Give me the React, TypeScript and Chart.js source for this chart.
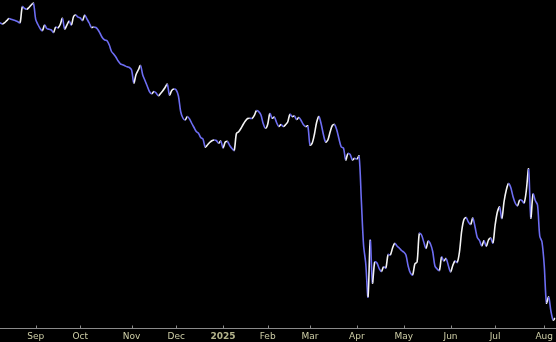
import React, { useEffect, useRef } from "react";
import { Chart, registerables } from "chart.js";

Chart.register(...registerables);

// Trading calendar (US market days) covered by the chart
const START_DATE = "2024-08-09";
const END_DATE = "2025-08-08";
const HOLIDAYS = [
  "2024-09-02", "2024-11-28", "2024-12-25", "2025-01-01", "2025-01-09",
  "2025-01-20", "2025-02-17", "2025-04-18", "2025-05-26", "2025-06-19", "2025-07-04",
];
const MONTH_LABELS = ["2025", "Feb", "Mar", "Apr", "May", "Jun", "Jul", "Aug", "Sep", "Oct", "Nov", "Dec"];

// Daily closing values
const closes = [
  141.46, 141.2, 141.44, 141.86, 142.3, 142.14, 141.98, 141.86, 141.64, 141.46,
  144.66, 144.32, 144.14, 144.5, 145.0, 145.34, 142.14, 141.1, 140.3, 139.86,
  141.0, 140.3, 140.14, 140.0, 139.5, 140.6, 140.4, 141.1, 142.34, 140.2,
  141.0, 141.8, 141.0, 142.7, 143.0, 142.56, 142.4, 141.9, 143.0, 142.2,
  141.4, 140.5, 140.6, 140.5, 140.0, 139.2, 138.4, 138.0, 137.84, 137.0,
  135.7, 135.16, 134.56, 133.8, 133.24, 133.04, 132.84, 132.64, 132.5, 132.0,
  129.4, 131.1, 132.0, 132.9, 131.0, 129.9, 128.8, 127.7, 127.24, 127.7,
  127.4, 126.84, 127.3, 127.84, 128.5, 129.16, 127.0, 127.9, 128.2, 128.0,
  126.8, 123.7, 122.4, 122.0, 122.7, 122.2, 121.3, 120.5, 119.7, 119.36,
  118.5, 118.2, 116.6, 117.0, 117.5, 117.84, 118.0, 117.9, 117.34, 117.8,
  116.4, 117.6, 117.7, 116.9, 116.3, 115.9, 119.3, 119.66, 120.3, 121.1,
  121.8, 122.3, 122.36, 122.3, 122.9, 123.86, 123.66, 123.0, 121.3, 120.34,
  121.1, 123.3, 122.34, 122.6, 121.5, 120.7, 121.1, 120.7, 121.04, 121.6,
  123.16, 122.68, 122.8, 122.1, 122.5, 121.9, 121.1, 120.7, 120.8, 117.0,
  117.4, 119.2, 121.6, 122.7, 121.2, 119.1, 117.6, 118.0, 119.6, 120.9,
  121.1, 120.0, 118.2, 116.6, 116.4, 114.0, 115.3, 115.1, 114.0, 114.34,
  114.2, 114.8, 106.0, 97.0, 93.2, 86.6, 98.0, 89.4, 93.6, 93.4,
  92.3, 91.7, 92.66, 92.4, 95.1, 95.0, 96.4, 97.34, 96.8, 96.4,
  95.9, 95.6, 95.0, 92.8, 91.4, 91.0, 93.2, 93.6, 99.34, 99.0,
  97.6, 96.3, 97.8, 97.2, 95.7, 92.8, 92.2, 91.9, 94.6, 93.8,
  94.3, 92.9, 91.6, 92.9, 93.8, 93.5, 95.6, 99.8, 102.1, 102.5,
  101.6, 101.1, 102.4, 100.6, 98.5, 97.9, 96.8, 97.9, 96.7, 98.0,
  98.4, 97.4, 101.0, 103.6, 104.6, 102.3, 105.7, 108.0, 109.3, 108.5,
  106.7, 105.4, 104.84, 106.0, 105.9, 105.4, 108.0, 112.2, 102.4, 107.2,
  105.9, 105.0, 98.8, 97.6, 93.0, 85.4, 86.6, 83.8, 82.0, 82.4,
];

const Y_MIN = 80.4;
const Y_MAX = 146;

function tradingDays(): string[] {
  const out: string[] = [];
  const d = new Date(START_DATE + "T00:00:00Z");
  const end = new Date(END_DATE + "T00:00:00Z");
  while (d.getTime() <= end.getTime()) {
    const wd = d.getUTCDay();
    const iso = d.toISOString().slice(0, 10);
    if (wd !== 0 && wd !== 6 && !HOLIDAYS.includes(iso)) out.push(iso);
    d.setUTCDate(d.getUTCDate() + 1);
  }
  return out;
}

const RISE = "#f4f4f4";
const FALL = "#6d6df2";
const AXIS = "#8a8a8a";

export default function App() {
  const ref = useRef<HTMLCanvasElement | null>(null);

  useEffect(() => {
    document.body.style.margin = "0";
    document.body.style.background = "#000";
    const dates = tradingDays();
    const monthTicks: { value: number; label: string }[] = [];
    for (let i = 1; i < dates.length; i++) {
      if (dates[i].slice(5, 7) !== dates[i - 1].slice(5, 7)) {
        const m = parseInt(dates[i].slice(5, 7), 10) - 1;
        monthTicks.push({ value: i, label: MONTH_LABELS[m] });
      }
    }
    const points = closes.map((v, i) => ({ x: i, y: v }));

    const axisPlugin = {
      id: "axisPlugin",
      afterDraw(chart: any) {
        const { ctx, chartArea } = chart;
        const xs = chart.scales.x;
        const y = Math.round(chartArea.bottom) + 0.5;
        ctx.save();
        ctx.strokeStyle = AXIS;
        ctx.lineWidth = 1;
        ctx.beginPath();
        ctx.moveTo(0, y);
        ctx.lineTo(chart.width, y);
        for (const t of monthTicks) {
          const px = Math.round(xs.getPixelForValue(t.value)) + 0.5;
          ctx.moveTo(px, y - 3);
          ctx.lineTo(px, y);
        }
        ctx.stroke();
        ctx.restore();
      },
    };

    const chart = new Chart(ref.current as HTMLCanvasElement, {
      type: "line",
      data: {
        datasets: [
          {
            data: points,
            borderWidth: 1.6,
            pointRadius: 0,
            tension: 0.3,
            borderColor: FALL,
            segment: {
              borderColor: (c: any) => (c.p1.parsed.y >= c.p0.parsed.y ? RISE : FALL),
            },
          },
        ],
      },
      options: {
        animation: false,
        responsive: false,
        maintainAspectRatio: false,
        layout: { padding: 0 },
        plugins: { legend: { display: false }, tooltip: { enabled: false } },
        scales: {
          x: {
            type: "linear",
            min: 0,
            max: closes.length - 1,
            grid: { display: false, drawTicks: false },
            border: { display: false },
            afterBuildTicks: (scale: any) => {
              scale.ticks = monthTicks.map((t) => ({ value: t.value }));
            },
            afterFit: (scale: any) => {
              scale.height = 14;
            },
            ticks: {
              autoSkip: false,
              maxRotation: 0,
              padding: 3,
              callback: (v: any) => {
                const t = monthTicks.find((m) => m.value === v);
                return t ? t.label : "";
              },
              color: (c: any) => (c.tick && c.tick.label === "2025" ? "#b4b48c" : "#cdcda6"),
              font: (c: any) => ({
                family: "DejaVu Sans",
                size: 9,
                weight: c.tick && c.tick.label === "2025" ? "bold" : "normal",
              }),
            },
          },
          y: {
            display: false,
            min: Y_MIN,
            max: Y_MAX,
          },
        },
      },
      plugins: [axisPlugin],
    } as any);
    return () => chart.destroy();
  }, []);

  return (
    <div style={{ width: 556, height: 342, background: "#000" }}>
      <canvas ref={ref} width={556} height={342} style={{ display: "block" }} />
    </div>
  );
}
